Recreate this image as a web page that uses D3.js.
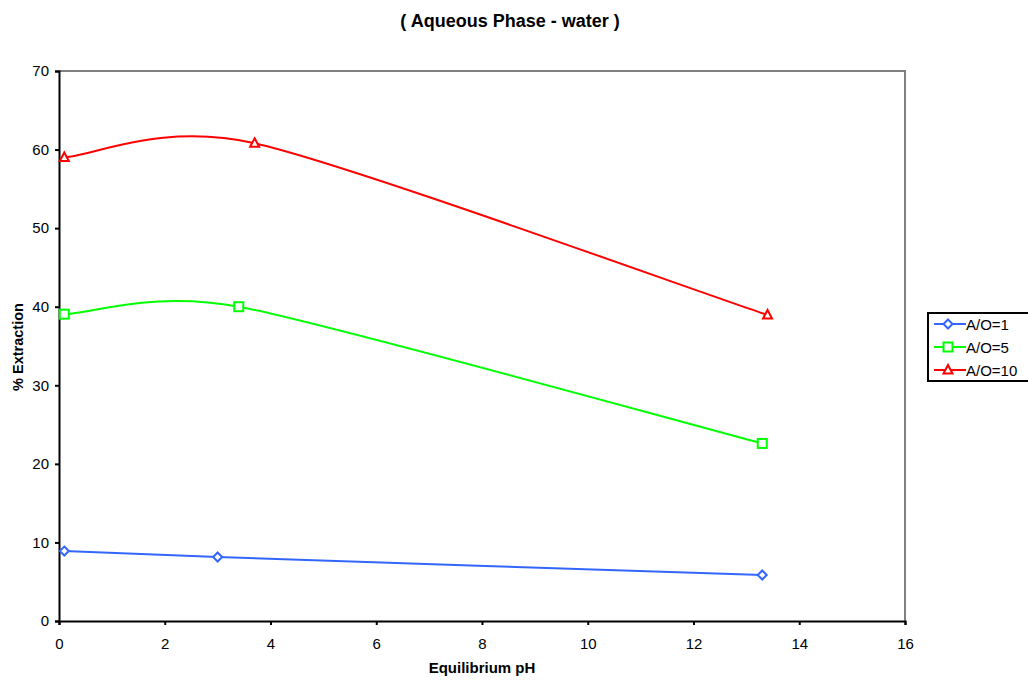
<!DOCTYPE html>
<html>
<head>
<meta charset="utf-8">
<script src="https://cdn.jsdelivr.net/npm/d3@7"></script>
<style>
  body { margin: 0; background: #fff; overflow: hidden; }
  text { font-family: Arial, "Liberation Sans", sans-serif; }
</style>
</head>
<body>
<script>
//chart values
var seriesNames = ["A/O=1", "A/O=5", "A/O=10"];
var seriesColors = ["#3366ff", "#00ff00", "#ff0000"];
var phAO1 = [0.1, 3.0, 13.3],   extAO1 = [8.9, 8.15, 5.85];
var phAO5 = [0.1, 3.4, 13.3],   extAO5 = [39.05, 40.0, 22.6];
var phAO10 = [0.1, 3.7, 13.4],  extAO10 = [59.0, 60.8, 38.95];
var xTicks = [0, 2, 4, 6, 8, 10, 12, 14, 16];
var yTicks = [0, 10, 20, 30, 40, 50, 60, 70];

var width = 1028, height = 683;
var plotLeft = 59, plotTop = 71, plotRight = 905, plotBottom = 621;

var svg = d3.select("body")
    .append("svg")
    .attr("width", width)
    .attr("height", height);

var x = d3.scaleLinear().domain([0, 16]).range([plotLeft, plotRight]);
var y = d3.scaleLinear().domain([0, 70]).range([plotBottom, plotTop]);

//spreadsheet style smoothed line: bezier segments, tangent (next - prev)/6
//shortened when it gets long next to a short segment
function SmoothCurve(context){ this._context = context; }
SmoothCurve.prototype = {
    areaStart: function(){ this._line = 0; },
    areaEnd: function(){ this._line = NaN; },
    lineStart: function(){ this._pts = []; },
    point: function(px, py){ this._pts.push([+px, +py]); },
    lineEnd: function(){
        var p = this._pts, n = p.length, ctx = this._context;
        if (!n) return;
        var dist = function(a, b){ return Math.hypot(b[0] - a[0], b[1] - a[1]); };
        var tan = p.map(function(pt, i){
            var a = p[Math.max(i - 1, 0)], b = p[Math.min(i + 1, n - 1)];
            var t = [(b[0] - a[0]) / 6, (b[1] - a[1]) / 6];
            if (i > 0 && i < n - 1) {
                var lim = 0.5 * Math.min(dist(a, pt), dist(pt, b)), len = Math.hypot(t[0], t[1]);
                if (len > lim) { t = [t[0] * lim / len, t[1] * lim / len]; }
            }
            return t;
        });
        ctx.moveTo(p[0][0], p[0][1]);
        for (var i = 0; i < n - 1; i++) {
            ctx.bezierCurveTo(p[i][0] + tan[i][0], p[i][1] + tan[i][1],
                p[i + 1][0] - tan[i + 1][0], p[i + 1][1] - tan[i + 1][1],
                p[i + 1][0], p[i + 1][1]);
        }
    }
};
function smoothCurve(context){ return new SmoothCurve(context); }

//plot frame: gray top and right edges
svg.append("path")
    .attr("d", "M" + plotLeft + "," + plotTop + "H" + plotRight + "V" + plotBottom)
    .attr("fill", "none")
    .attr("stroke", "#808080")
    .attr("stroke-width", 2);

//axes
var xAxis = svg.append("g")
    .attr("transform", "translate(0," + plotBottom + ")")
    .call(d3.axisBottom(x).tickValues(xTicks).tickSize(4).tickPadding(13));
var yAxis = svg.append("g")
    .attr("transform", "translate(" + plotLeft + ",0)")
    .call(d3.axisLeft(y).tickValues(yTicks).tickSize(4).tickPadding(6));
[xAxis, yAxis].forEach(function(g){
    g.select(".domain").attr("stroke", "#000").attr("stroke-width", 2);
    g.selectAll(".tick line").attr("stroke", "#000").attr("stroke-width", 2);
    g.selectAll(".tick text")
        .attr("font-size", 15)
        .attr("font-family", "Arial, 'Liberation Sans', sans-serif")
        .attr("fill", "#000");
});

//titles
svg.append("text")
    .attr("x", 510).attr("y", 27)
    .attr("text-anchor", "middle")
    .attr("font-size", 18).attr("font-weight", "bold")
    .text("( Aqueous Phase - water )");
svg.append("text")
    .attr("x", 482).attr("y", 673)
    .attr("text-anchor", "middle")
    .attr("font-size", 15).attr("font-weight", "bold")
    .text("Equilibrium pH");
svg.append("text")
    .attr("transform", "translate(22.5,347) rotate(-90)")
    .attr("text-anchor", "middle")
    .attr("font-size", 14.5).attr("font-weight", "bold")
    .text("% Extraction");

//series
var series = [
    {name: seriesNames[0], color: seriesColors[0], shape: "diamond",  xs: phAO1,  ys: extAO1},
    {name: seriesNames[1], color: seriesColors[1], shape: "square",   xs: phAO5,  ys: extAO5},
    {name: seriesNames[2], color: seriesColors[2], shape: "triangle", xs: phAO10, ys: extAO10}
];

var line = d3.line()
    .x(function(d){ return x(d[0]); })
    .y(function(d){ return y(d[1]); })
    .curve(smoothCurve);

function marker(g, shape, color){
    if (shape == "diamond") {
        g.append("path").attr("d", "M0,-4.5L4.5,0L0,4.5L-4.5,0Z");
    } else if (shape == "square") {
        g.append("rect").attr("x", -4.5).attr("y", -4.5).attr("width", 9).attr("height", 9);
    } else {
        g.append("path").attr("d", "M0,-5L4.5,3.5L-4.5,3.5Z");
    }
    g.selectAll("*")
        .attr("fill", "#fff")
        .attr("stroke", color)
        .attr("stroke-width", 2);
}

series.forEach(function(s){
    var pts = s.xs.map(function(v, i){ return [v, s.ys[i]]; });
    svg.append("path")
        .datum(pts)
        .attr("fill", "none")
        .attr("stroke", s.color)
        .attr("stroke-width", 2)
        .attr("d", line);
    pts.forEach(function(p){
        var g = svg.append("g")
            .attr("transform", "translate(" + x(p[0]) + "," + y(p[1]) + ")");
        marker(g, s.shape, s.color);
    });
});

//legend (box runs off the right edge like the original)
var legend = svg.append("g").attr("transform", "translate(928,313)");
legend.append("rect")
    .attr("width", 130).attr("height", 68)
    .attr("fill", "#fff")
    .attr("stroke", "#000")
    .attr("stroke-width", 2);
series.forEach(function(s, i){
    var row = legend.append("g").attr("transform", "translate(0," + (11 + i * 23) + ")");
    row.append("line")
        .attr("x1", 6).attr("x2", 38)
        .attr("stroke", s.color).attr("stroke-width", 2);
    var m = row.append("g").attr("transform", "translate(20,0)");
    marker(m, s.shape, s.color);
    row.append("text")
        .attr("x", 38).attr("y", 5.5)
        .attr("font-size", 15)
        .text(s.name);
});
</script>
</body>
</html>
